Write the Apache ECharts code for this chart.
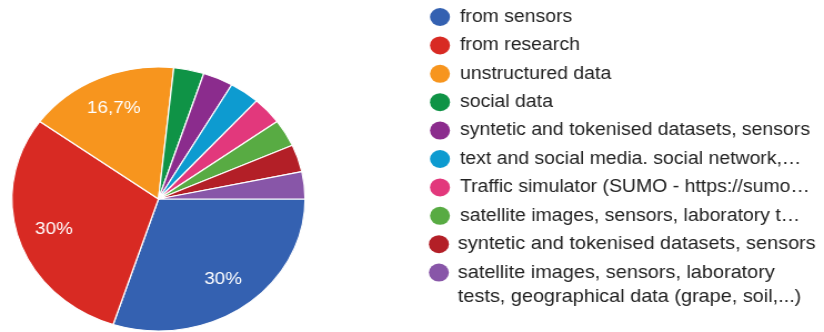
<!DOCTYPE html>
<html>
<head>
<meta charset="utf-8">
<script src="https://cdn.jsdelivr.net/npm/echarts@6/dist/echarts.min.js"></script>
<style>
  html, body { margin: 0; padding: 0; background: #ffffff; overflow: hidden; }
  /* the whole figure is drawn narrower, then widened horizontally */
  #chart { width: 742px; height: 332px; transform: scaleX(1.1105); transform-origin: 0 0; }
</style>
</head>
<body>
<div id="chart"></div>
<script>
// Data sources reported by respondents (number of answers)
const categories = [
  'from sensors',
  'from research',
  'unstructured data',
  'social data',
  'syntetic and tokenised datasets, sensors',
  'text and social media. social network,\u2026',
  'Traffic simulator (SUMO - https://sumo\u2026',
  'satellite images, sensors, laboratory t\u2026',
  'syntetic and tokenised datasets, sensors ',
  'satellite images, sensors, laboratory\ntests, geographical data (grape, soil,...)'
];
const counts = [9, 9, 5, 1, 1, 1, 1, 1, 1, 1];
const colors = [
  '#3461b1', '#d82a23', '#f7951e', '#0f9346', '#8b2c8d',
  '#0d9bd0', '#e2387c', '#58ab43', '#b31f27', '#8856a8'
];

const total = counts.reduce((a, b) => a + b, 0);
const fontFamily = 'Arial, "Liberation Sans", sans-serif';

// percentage text with a decimal comma: 30%, 16,7%
function pctText(v) {
  const p = Math.round(v / total * 1000) / 10;
  return String(p).replace('.', ',') + '%';
}

const center = [142.7, 199];
const radius = 132;

const pieData = categories.map((name, i) => ({
  name: name,
  value: counts[i],
  itemStyle: { color: colors[i] }
}));

// ring used only to place the percentage labels at about 3/4 of the radius
const labelData = categories.map((name, i) => ({
  name: name,
  value: counts[i],
  label: { show: counts[i] / total > 0.1 }
}));

// hand-laid legend: circle marker + text per row
const rowTop = 17;
const rowStep = 28.4;
const legendItems = [];
categories.forEach((name, i) => {
  const y = rowTop + i * rowStep;
  // the two bottom rows sit a touch further left and a touch larger
  const lower = i >= 8;
  const markerX = lower ? 395.2 : 396.2;
  const textX = lower ? 412.3 : 414.2;
  const size = lower ? 17.9 : 17.5;
  legendItems.push({
    type: 'circle',
    shape: { cx: markerX, cy: y, r: 9 },
    style: { fill: colors[i] },
    silent: true
  });
  legendItems.push({
    type: 'text',
    x: textX,
    y: y - 12,
    style: {
      text: name.trim(),
      fill: '#222222',
      font: size + 'px ' + fontFamily,
      lineHeight: 24,
      verticalAlign: 'top',
      align: 'left'
    },
    silent: true
  });
});

const chart = echarts.init(document.getElementById('chart'), null, { renderer: 'canvas' });
chart.setOption({
  animation: false,
  backgroundColor: '#ffffff',
  series: [
    {
      type: 'pie',
      center: center,
      radius: radius,
      startAngle: 0,
      clockwise: true,
      avoidLabelOverlap: false,
      label: { show: false },
      labelLine: { show: false },
      itemStyle: { borderColor: '#ffffff', borderWidth: 1.2 },
      emphasis: { disabled: true },
      data: pieData
    },
    {
      type: 'pie',
      center: center,
      radius: [60, radius],
      startAngle: 0,
      clockwise: true,
      silent: true,
      avoidLabelOverlap: false,
      itemStyle: { color: 'rgba(0,0,0,0)', borderWidth: 0 },
      label: {
        position: 'inside',
        color: '#ffffff',
        fontSize: 17,
        fontFamily: fontFamily,
        formatter: p => pctText(p.value)
      },
      labelLine: { show: false },
      emphasis: { disabled: true },
      data: labelData
    }
  ],
  graphic: legendItems
});
</script>
</body>
</html>
